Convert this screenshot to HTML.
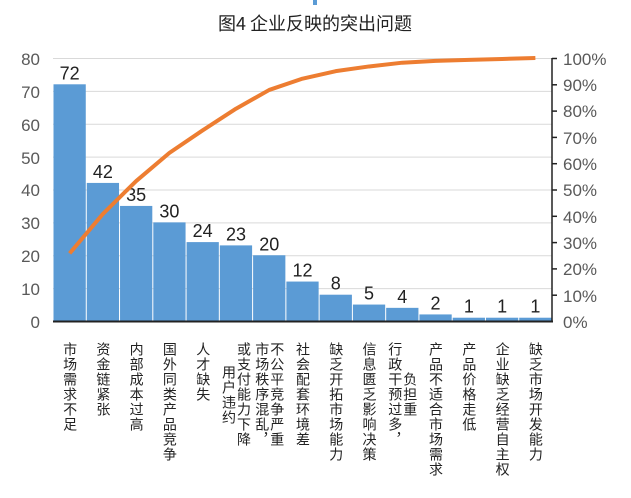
<!DOCTYPE html>
<html><head><meta charset="utf-8"><style>
body{margin:0;width:631px;height:498px;background:#fff;position:relative;overflow:hidden;font-family:"Liberation Sans","Noto Sans CJK SC",sans-serif}
.lab{position:absolute;top:342px;width:33.27px;display:flex;justify-content:center;align-items:center}
.lab span{writing-mode:vertical-lr;text-orientation:upright;font-size:14px;line-height:15px;width:15px;color:#222;letter-spacing:1px;font-family:"Noto Sans CJK SC",sans-serif}
</style></head><body>
<svg width="631" height="498" style="position:absolute;left:0;top:0" font-family="Liberation Sans, Noto Sans CJK SC, sans-serif">
<rect x="313" y="0" width="4" height="5" fill="#5b9bd5"/>
<text x="315" y="30" text-anchor="middle" font-size="18" fill="#222" font-family="Noto Sans CJK SC, sans-serif">图4  企业反映的突出问题</text>
<g stroke="#d9d9d9" stroke-width="1">
<line x1="53" x2="552" y1="58.5" y2="58.5"/><line x1="53" x2="552" y1="91.4" y2="91.4"/><line x1="53" x2="552" y1="124.3" y2="124.3"/><line x1="53" x2="552" y1="157.1" y2="157.1"/><line x1="53" x2="552" y1="190" y2="190"/><line x1="53" x2="552" y1="222.9" y2="222.9"/><line x1="53" x2="552" y1="255.7" y2="255.7"/><line x1="53" x2="552" y1="288.6" y2="288.6"/>
</g>
<g fill="#5b9bd5" id="bars"></g>
<g id="vals" font-size="18" fill="#222" text-anchor="middle"></g>
<line x1="53" x2="553" y1="321.5" y2="321.5" stroke="#222" stroke-width="2"/>
<g stroke="#222" stroke-width="1.5">
<line x1="552" x2="552" y1="58" y2="322"/>
<line x1="552" x2="557" y1="58.5" y2="58.5"/><line x1="552" x2="557" y1="84.8" y2="84.8"/><line x1="552" x2="557" y1="111.1" y2="111.1"/><line x1="552" x2="557" y1="137.4" y2="137.4"/><line x1="552" x2="557" y1="163.7" y2="163.7"/><line x1="552" x2="557" y1="190" y2="190"/><line x1="552" x2="557" y1="216.3" y2="216.3"/><line x1="552" x2="557" y1="242.6" y2="242.6"/><line x1="552" x2="557" y1="268.9" y2="268.9"/><line x1="552" x2="557" y1="295.2" y2="295.2"/>
</g>
<g font-size="17" fill="#595959" text-anchor="end">
<text x="40" y="65">80</text><text x="40" y="98">70</text><text x="40" y="131">60</text><text x="40" y="164">50</text><text x="40" y="196">40</text><text x="40" y="229">30</text><text x="40" y="262">20</text><text x="40" y="295">10</text><text x="40" y="328">0</text>
</g>
<g font-size="17" fill="#595959">
<text x="563" y="65">100%</text><text x="563" y="91">90%</text><text x="563" y="117">80%</text><text x="563" y="144">70%</text><text x="563" y="170">60%</text><text x="563" y="196">50%</text><text x="563" y="223">40%</text><text x="563" y="249">30%</text><text x="563" y="275">20%</text><text x="563" y="302">10%</text><text x="563" y="328">0%</text>
</g>
<polyline id="cum" fill="none" stroke="#ed7d31" stroke-width="4" stroke-linejoin="round"/>
</svg>
<div id="labs"></div>
<script>
var v=[72,42,35,30,24,23,20,12,8,5,4,2,1,1,1],x0=53,w=499/15,y0=321,s=3.2875,ns="http://www.w3.org/2000/svg";
var b=document.getElementById('bars'),t=document.getElementById('vals'),pts=[],c=0;
v.forEach(function(d,i){var r=document.createElementNS(ns,'rect');r.setAttribute('x',x0+i*w+0.5);r.setAttribute('width',w-1);r.setAttribute('y',y0-d*s);r.setAttribute('height',d*s);b.appendChild(r);
var tx=document.createElementNS(ns,'text');tx.setAttribute('x',x0+i*w+w/2);tx.setAttribute('y',y0-d*s-5);tx.textContent=d;t.appendChild(tx);
c+=d;pts.push((x0+i*w+w/2)+','+(y0-c/280*263));});
document.getElementById('cum').setAttribute('points',pts.join(' '));
var L=[["市场需求不足"],["资金链紧张"],["内部成本过高"],["国外同类产品竞争"],["人才缺失"],["用户违约","或支付能力下降"],["市场秩序混乱，","不公平竞争严重"],["社会配套环境差"],["缺乏开拓市场能力"],["信息匮乏影响决策"],["行政干预过多，","负担重"],["产品不适合市场需求"],["产品价格走低"],["企业缺乏经营自主权"],["缺乏市场开发能力"]];
var h='';for(var i=0;i<15;i++){h+='<div class="lab" style="left:'+(x0+i*w)+'px">';L[i].forEach(function(q){h+='<span>'+q+'</span>';});h+='</div>';}
document.getElementById('labs').innerHTML=h;
</script>
</body></html>
